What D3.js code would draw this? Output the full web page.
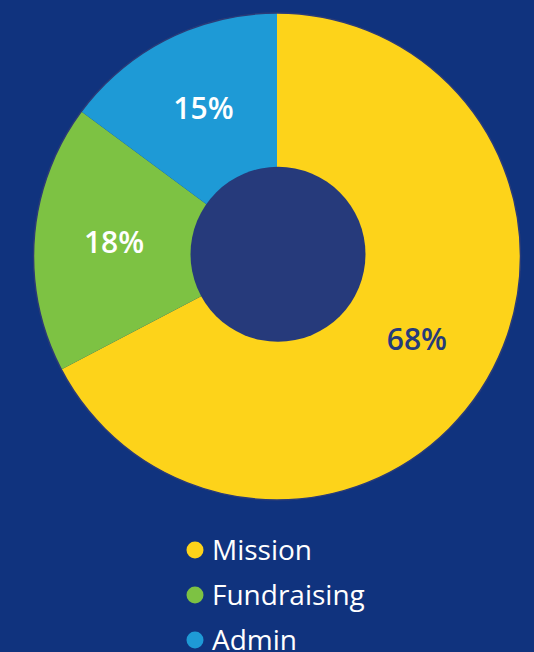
<!DOCTYPE html>
<html>
<head>
<meta charset="utf-8">
<script src="https://cdn.jsdelivr.net/npm/d3@7/dist/d3.min.js"></script>
<style>
  html, body { margin: 0; padding: 0; background: #10337e; }
  svg { display: block; }
</style>
</head>
<body>
<svg id="chart" width="534" height="652"></svg>
<script>
const categories = ["Mission", "Fundraising", "Admin"];
const values = [68, 18, 15];
const labels = ["68%", "18%", "15%"];
const colors = ["#fdd31a", "#7dc243", "#1e9ad6"];
const labelColors = ["#263a7b", "#ffffff", "#ffffff"];

const W = 534, H = 652;
const cx = 277, cy = 256.5, R = 243.5, r = 87.5;
const svg = d3.select("#chart");
svg.append("rect").attr("width", W).attr("height", H).attr("fill", "#10337e");

const data = categories.map((c, i) => ({ name: c, value: values[i], label: labels[i], color: colors[i], lc: labelColors[i] }));
const pie = d3.pie().value(d => d.value).sort(null);
const arcs = pie(data);
const arc = d3.arc().innerRadius(0).outerRadius(R);
const labelArc = d3.arc().innerRadius(r - 4).outerRadius(R);

const g = svg.append("g").attr("transform", `translate(${cx},${cy})`);
g.selectAll("path.slice").data(arcs).join("path")
  .attr("class", "slice")
  .attr("d", arc)
  .attr("fill", d => d.data.color);

g.append("circle").attr("r", R).attr("fill", "none").attr("stroke", "#2a3b78").attr("stroke-width", 1.5);

// inner disc
svg.append("circle").attr("cx", 278).attr("cy", 254.3).attr("r", r).attr("fill", "#263a7b");

g.selectAll("text.lbl").data(arcs).join("text")
  .attr("class", "lbl")
  .attr("transform", d => `translate(${labelArc.centroid(d)})`)
  .attr("text-anchor", "middle")
  .attr("dy", "0.3em")
  .attr("font-family", "'Open Sans', 'Noto Sans', sans-serif")
  .attr("font-weight", 600)
  .attr("font-size", 30)
  .attr("fill", d => d.data.lc)
  .text(d => d.data.label);

// legend
const leg = svg.append("g");
const rowY = [550, 595, 640];
data.forEach((d, i) => {
  leg.append("circle").attr("cx", 195).attr("cy", rowY[i]).attr("r", 8.5).attr("fill", d.color);
  leg.append("text")
    .attr("x", 212).attr("y", rowY[i] + 10)
    .attr("font-family", "'Open Sans', 'Noto Sans', sans-serif")
    .attr("font-size", 28)
    .attr("fill", "#ffffff")
    .text(d.name);
});
</script>
</body>
</html>
